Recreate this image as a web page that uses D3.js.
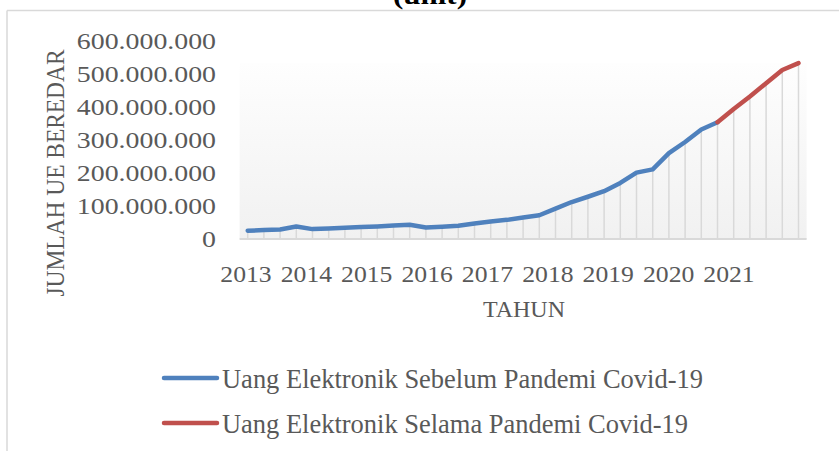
<!DOCTYPE html>
<html lang="id">
<head>
  <meta charset="UTF-8">
  <title>Jumlah Uang Elektronik Beredar</title>
  <script src="https://d3js.org/d3.v7.min.js"></script>
  <style>
    body { background: #fff; margin: 0; }
    svg { display: block; font-family: "Liberation Serif", "Times New Roman", serif; }
    .tick-label { fill: #595959; font-size: 24px; }
    .axis-title { fill: #595959; }
    .drop { stroke: #d9d9d9; stroke-width: 1.5; }
    .baseline { stroke: #d9d9d9; stroke-width: 2; }
    .frame { stroke: #d9d9d9; stroke-width: 1.5; }
  </style>
</head>
<body>
  <svg width="839" height="451"></svg>

  <script>
    // quarterly data 2013 Q1 .. 2021 Q3 (in millions of units)
    const quarters = d3.range(35).map(i => `${2013 + Math.floor(i / 4)}Q${i % 4 + 1}`);
    const sebelum = [25, 27, 29, 38, 30, 32, 34, 36, 38, 41, 43, 35, 37, 40, 47, 53, 58, 65,
                     72, 92, 112, 128, 145, 170, 201, 211, 260, 294, 332, 354];
    const selama = [354, 394, 432, 472, 512, 533]; // starts at quarter index 29
    const selamaStart = 29;
    const years = ["2013", "2014", "2015", "2016", "2017", "2018", "2019", "2020", "2021"];
    const yTicks = [0, 100, 200, 300, 400, 500, 600];
    const legendLabels = ["Uang Elektronik Sebelum Pandemi Covid-19", "Uang Elektronik Selama Pandemi Covid-19"];
    const colors = ["#4f81bd", "#c0504d"];

    const svg = d3.select("svg");

    const x = d3.scaleBand().domain(quarters).range([239.6, 806.6]);
    const y = d3.scaleLinear().domain([0, 600]).range([239, 41]);
    const xYear = d3.scalePoint().domain(years).range([246, 729]);

    const fmt = v => v === 0 ? "0" : d3.format(",")(v * 1e6).replace(/,/g, ".");

    // frame
    svg.append("line").attr("class", "frame")
      .attr("x1", 7).attr("x2", 839).attr("y1", 10.5).attr("y2", 10.5);
    svg.append("line").attr("class", "frame")
      .attr("x1", 7).attr("x2", 7).attr("y1", 10.5).attr("y2", 451);

    // cut-off title
    svg.append("text")
      .attr("x", 430).attr("y", 4)
      .attr("text-anchor", "middle")
      .attr("font-size", 26).attr("font-weight", "bold")
      .attr("textLength", 74).attr("lengthAdjust", "spacingAndGlyphs")
      .text("(unit)");

    // plot area gradient
    const grad = svg.append("defs").append("linearGradient")
      .attr("id", "bg").attr("x1", 0).attr("x2", 0).attr("y1", 0).attr("y2", 1);
    grad.append("stop").attr("offset", "0%").attr("stop-color", "#fefefe");
    grad.append("stop").attr("offset", "100%").attr("stop-color", "#f1f1f1");
    svg.append("rect")
      .attr("x", x.range()[0]).attr("y", 63)
      .attr("width", x.range()[1] - x.range()[0]).attr("height", y(0) - 63)
      .attr("fill", "url(#bg)");

    const allValues = quarters.map((q, i) => i < sebelum.length ? sebelum[i] : selama[i - selamaStart]);
    const cx = q => x(q) + x.bandwidth() / 2;

    // drop lines
    svg.append("g").selectAll("line")
      .data(quarters)
      .join("line")
      .attr("class", "drop")
      .attr("x1", cx).attr("x2", cx)
      .attr("y1", (q, i) => y(allValues[i]))
      .attr("y2", y(0));

    svg.append("line").attr("class", "baseline")
      .attr("x1", x.range()[0]).attr("x2", x.range()[1])
      .attr("y1", y(0)).attr("y2", y(0));

    // y tick labels (slightly wide in the source)
    svg.append("g").selectAll("text")
      .data(yTicks)
      .join("text")
      .attr("class", "tick-label")
      .attr("text-anchor", "end")
      .attr("dy", "0.35em")
      .attr("transform", d => `translate(216,${y(d)}) scale(1.16,1)`)
      .text(fmt);

    // x year labels
    svg.append("g").selectAll("text")
      .data(years)
      .join("text")
      .attr("class", "tick-label")
      .attr("text-anchor", "middle")
      .attr("transform", d => `translate(${xYear(d)},282) scale(1.07,1)`)
      .text(d => d);

    // axis titles
    svg.append("text")
      .attr("class", "axis-title")
      .attr("text-anchor", "middle")
      .attr("font-size", 24)
      .attr("x", 524).attr("y", 317)
      .attr("textLength", 82).attr("lengthAdjust", "spacingAndGlyphs")
      .text("TAHUN");

    svg.append("text")
      .attr("class", "axis-title")
      .attr("text-anchor", "middle")
      .attr("font-size", 25)
      .attr("transform", "translate(64,173) rotate(-90)")
      .attr("textLength", 247).attr("lengthAdjust", "spacingAndGlyphs")
      .text("JUMLAH UE BEREDAR");

    // lines
    const line = d3.line()
      .x(d => cx(d.q))
      .y(d => y(d.v));

    const series = [
      sebelum.map((v, i) => ({ q: quarters[i], v })),
      selama.map((v, i) => ({ q: quarters[selamaStart + i], v }))
    ];

    svg.append("g").selectAll("path")
      .data(series)
      .join("path")
      .attr("fill", "none")
      .attr("stroke", (d, i) => colors[i])
      .attr("stroke-width", 4.5)
      .attr("stroke-linejoin", "round")
      .attr("stroke-linecap", "round")
      .attr("d", line);

    // legend
    const legendY = [378, 423];
    const legendLen = [481, 466];
    const legend = svg.append("g").selectAll("g")
      .data(legendLabels)
      .join("g")
      .attr("transform", (d, i) => `translate(0,${legendY[i]})`);

    legend.append("line")
      .attr("x1", 164).attr("x2", 217)
      .attr("stroke", (d, i) => colors[i])
      .attr("stroke-width", 4.5)
      .attr("stroke-linecap", "round");

    legend.append("text")
      .attr("class", "axis-title")
      .attr("font-size", 28)
      .attr("x", 222).attr("y", 10)
      .attr("textLength", (d, i) => legendLen[i])
      .attr("lengthAdjust", "spacingAndGlyphs")
      .text(d => d);
  </script>
</body>
</html>
